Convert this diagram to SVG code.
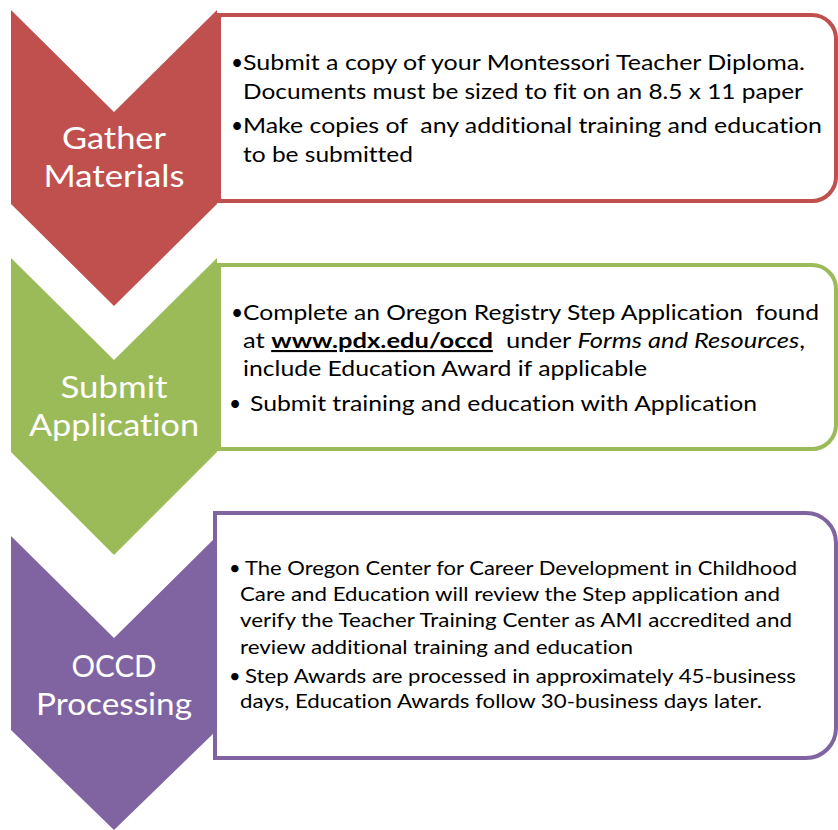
<svg xmlns="http://www.w3.org/2000/svg" width="838" height="830" viewBox="0 0 838 830">
<style>
text{font-variant-ligatures:none;font-feature-settings:"liga" 0,"clig" 0}
.lbl{font-family:Lato,"Liberation Sans",sans-serif;font-size:31px;fill:#ffffff;text-anchor:middle}
.t{font-family:Lato,"Liberation Sans",sans-serif;fill:#000000;white-space:pre}
.b1{font-size:21px}
.b2{font-size:21px}
.b3{font-size:20px}
.box{fill:#ffffff;stroke-width:4}
.red{fill:#C0504D}
.green{fill:#9BBB59}
.purple{fill:#8064A2}
</style>
<rect width="838" height="830" fill="#ffffff"/>
<g id="connectors"></g>

<g id="step1">
<path class="red" d="M11,10 L114,112 L217,10 L217,204 L114,306 L11,204 Z"/>
<path class="box" stroke="#C0504D" d="M219,15 H812 A24,24 0 0 1 836,39 V177 A24,24 0 0 1 812,201 H219 Z"/>
<text class="lbl" x="114" y="149" textLength="104" lengthAdjust="spacingAndGlyphs">Gather</text>
<text class="lbl" x="114" y="187" textLength="141" lengthAdjust="spacingAndGlyphs">Materials</text>
<text class="t b1" x="231" y="70">•</text>
<text class="t b1" x="243" y="70" textLength="562" lengthAdjust="spacingAndGlyphs">Submit a copy of your Montessori Teacher Diploma.</text>
<text class="t b1" x="243" y="99" textLength="560" lengthAdjust="spacingAndGlyphs">Documents must be sized to fit on an 8.5 x 11 paper</text>
<text class="t b1" x="231" y="133">•</text>
<text class="t b1" x="243" y="133" textLength="579" lengthAdjust="spacingAndGlyphs">Make copies of  any additional training and education</text>
<text class="t b1" x="243" y="162" textLength="170" lengthAdjust="spacingAndGlyphs">to be submitted</text>
</g>

<g id="step2">
<path class="green" d="M11,258 L114,360 L217,258 L217,452 L114,555 L11,452 Z"/>
<path class="box" stroke="#9BBB59" d="M219,265 H812 A24,24 0 0 1 836,289 V425 A24,24 0 0 1 812,449 H219 Z"/>
<text class="lbl" x="114" y="398" textLength="107" lengthAdjust="spacingAndGlyphs">Submit</text>
<text class="lbl" x="114" y="436" textLength="170" lengthAdjust="spacingAndGlyphs">Application</text>
<text class="t b2" x="231" y="320">•</text>
<text class="t b2" x="243" y="320" textLength="576" lengthAdjust="spacingAndGlyphs">Complete an Oregon Registry Step Application  found</text>
<text class="t b2" x="243" y="348" textLength="562" lengthAdjust="spacingAndGlyphs">at <tspan font-weight="bold" text-decoration="underline">www.pdx.edu/occd</tspan>  under <tspan font-style="italic">Forms and Resources</tspan>,</text>
<text class="t b2" x="243" y="376" textLength="404" lengthAdjust="spacingAndGlyphs">include Education Award if applicable</text>
<text class="t b2" x="229" y="411">•</text>
<text class="t b2" x="250" y="411" textLength="507" lengthAdjust="spacingAndGlyphs">Submit training and education with Application</text>
</g>

<g id="step3">
<path class="purple" d="M11,536 L114,638 L217,536 L217,730 L114,830 L11,730 Z"/>
<path class="box" stroke="#8064A2" d="M215,513 H806 A30,30 0 0 1 836,543 V728 A30,30 0 0 1 806,758 H215 Z"/>
<text class="lbl" x="114" y="677" textLength="85" lengthAdjust="spacingAndGlyphs">OCCD</text>
<text class="lbl" x="114" y="715" textLength="156" lengthAdjust="spacingAndGlyphs">Processing</text>
<text class="t b3" x="229" y="575">•</text>
<text class="t b3" x="245" y="575" textLength="552" lengthAdjust="spacingAndGlyphs">The Oregon Center for Career Development in Childhood</text>
<text class="t b3" x="240" y="601" textLength="540" lengthAdjust="spacingAndGlyphs">Care and Education will review the Step application and</text>
<text class="t b3" x="240" y="627" textLength="552" lengthAdjust="spacingAndGlyphs">verify the Teacher Training Center as AMI accredited and</text>
<text class="t b3" x="240" y="654" textLength="393" lengthAdjust="spacingAndGlyphs">review additional training and education</text>
<text class="t b3" x="229" y="683">•</text>
<text class="t b3" x="245" y="683" textLength="551" lengthAdjust="spacingAndGlyphs">Step Awards are processed in approximately 45-business</text>
<text class="t b3" x="240" y="708" textLength="522" lengthAdjust="spacingAndGlyphs">days, Education Awards follow 30-business days later.</text>
</g>
</svg>
